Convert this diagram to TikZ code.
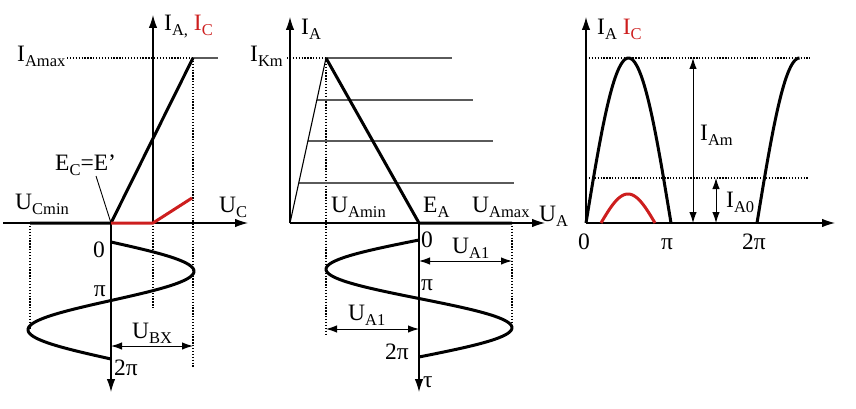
\documentclass[tikz,border=0pt]{standalone}
\usepackage{fontspec}
\setmainfont{Liberation Serif}
\usetikzlibrary{arrows.meta}
\definecolor{redc}{RGB}{205,30,30}
\definecolor{thing}{RGB}{90,90,90}
\newcommand\sbx[1]{\raisebox{-5pt}{\fontsize{16.5}{16.5}\selectfont #1}}
\tikzset{
  ax/.style={line width=1.1pt, -{Latex[length=13pt,width=8.5pt]}},
  dim/.style={line width=1pt, {Latex[length=11pt,width=7.5pt]}-{Latex[length=11pt,width=7.5pt]}},
  heavy/.style={line width=3pt, line join=round},
  redl/.style={line width=3pt, redc, line join=round},
  dotl/.style={line width=1.3pt, dash pattern=on 1.3pt off 1.6pt},
  thinl/.style={line width=1.4pt, thing},
  lbl/.style={inner sep=0pt, font=\fontsize{23.5}{23.5}\selectfont},
}
\begin{document}
\begin{tikzpicture}[x=1pt,y=-1pt]
\useasboundingbox (0,0) rectangle (856,409);

% ================= Panel 1 =================
\coordinate (o1) at (111,223);
\coordinate (v1) at (153,223);
\coordinate (v1t) at (153,15);
\coordinate (h1s) at (3,223);
\coordinate (h1e) at (248,223);
\coordinate (t1e) at (111,392);
\coordinate (p1) at (193,58);
\coordinate (p1r) at (218,58);
\coordinate (umin1) at (30,223);
\coordinate (red1) at (192,198);
\coordinate (d1a) at (193,368);
\coordinate (d1b) at (153,308);
\coordinate (d1c) at (30,330);
\coordinate (imx) at (67,58);
\coordinate (ubxa) at (111,346);
\coordinate (ubxb) at (193,346);
\coordinate (lead1) at (96,176);

\draw[dotl] (p1) -- (d1a);
\draw[dotl] (v1) -- (d1b);
\draw[dotl] (umin1) -- (d1c);
\draw[dotl] (imx) -- (p1);
\draw[thinl] (p1) -- (p1r);
\draw[ax] (v1) -- (v1t);
\draw[ax] (h1s) -- (h1e);
\draw[ax] (o1) -- (t1e);
\draw[line width=0.9pt] (lead1) -- (o1);
\draw[heavy] (umin1) -- (o1) -- (p1);
\draw[redl] (o1) -- (v1) -- (red1);
\draw[heavy] plot[domain=0:360, samples=90, smooth] ({111+83*sin(\x)}, {242+\x/360*117});
\draw[dim] (ubxa) -- (ubxb);

\node[lbl, anchor=base west] (ia1) at (164,31) {I\sbx{A,} \textcolor{redc}{I\sbx{C}}};
\node[lbl, anchor=base west] (iamax) at (17,62) {I\sbx{Amax}};
\node[lbl, anchor=base west] (ec) at (55,170) {E\sbx{C}=E’};
\node[lbl, anchor=base west] (ucmin) at (15,209) {U\sbx{Cmin}};
\node[lbl, anchor=base west] (uc) at (219,212) {U\sbx{C}};
\node[lbl, anchor=base east] (z1) at (105,257) {0};
\node[lbl, anchor=base east] (pi1) at (106,296) {π};
\node[lbl, anchor=base west] (tp1) at (114,375) {2π};
\node[lbl, anchor=base west] (ubx) at (132,338) {U\sbx{BX}};

% ================= Panel 2 =================
\coordinate (o2) at (290,223);
\coordinate (v2t) at (290,17);
\coordinate (h2e) at (545,223);
\coordinate (pk2) at (326,58);
\coordinate (ea) at (419,223);
\coordinate (uam) at (512,223);
\coordinate (t2e) at (419,392);
\coordinate (ikm) at (287,58);
\coordinate (l1e) at (452,58);
\coordinate (l2s) at (317.2,100);
\coordinate (l2e) at (473,100);
\coordinate (l3s) at (308.2,141);
\coordinate (l3e) at (493,141);
\coordinate (l4s) at (298.7,183);
\coordinate (l4e) at (514,183);
\coordinate (d2a) at (326,334);
\coordinate (d2b) at (512,326);
\coordinate (ua1a) at (419,261);
\coordinate (ua1b) at (512,261);
\coordinate (ua2a) at (326,329);
\coordinate (ua2b) at (419,329);

\draw[dotl] (ikm) -- (pk2);
\draw[dotl] (pk2) -- (d2a);
\draw[dotl] (uam) -- (d2b);
\draw[thinl] (pk2) -- (l1e);
\draw[thinl] (l2s) -- (l2e);
\draw[thinl] (l3s) -- (l3e);
\draw[thinl] (l4s) -- (l4e);
\draw[line width=1.1pt] (o2) -- (pk2);
\draw[ax] (o2) -- (v2t);
\draw[ax] (o2) -- (h2e);
\draw[ax] (ea) -- (t2e);
\draw[heavy] (pk2) -- (ea) -- (uam);
\draw[heavy] plot[domain=0:360, samples=90, smooth] ({419-93*sin(\x)}, {240+\x/360*117});
\draw[dim] (ua1a) -- (ua1b);
\draw[dim] (ua2a) -- (ua2b);

\node[lbl, anchor=base west] (ia2) at (301,35) {I\sbx{A}};
\node[lbl, anchor=base west] (ikmn) at (250,62) {I\sbx{Km}};
\node[lbl, anchor=base west] (uamin) at (331,212) {U\sbx{Amin}};
\node[lbl, anchor=base west] (ean) at (423,212) {E\sbx{A}};
\node[lbl, anchor=base west] (uamax) at (472,212) {U\sbx{Amax}};
\node[lbl, anchor=base west] (uan) at (539,221) {U\sbx{A}};
\node[lbl, anchor=base west] (z2) at (421,247) {0};
\node[lbl, anchor=base west] (ua1t) at (452,253) {U\sbx{A1}};
\node[lbl, anchor=base west] (pi2) at (421,290) {π};
\node[lbl, anchor=base west] (ua1l) at (348,320) {U\sbx{A1}};
\node[lbl, anchor=base east] (tp2) at (409,359) {2π};
\node[lbl, anchor=base west] (tau) at (423,387) {τ};

% ================= Panel 3 =================
\coordinate (o3) at (586,223);
\coordinate (v3t) at (586,17);
\coordinate (h3e) at (835,223);
\coordinate (m3a) at (586,58);
\coordinate (m3b) at (810,58);
\coordinate (a3a) at (586,178);
\coordinate (a3b) at (808,178);
\coordinate (iama) at (693,58);
\coordinate (iamb) at (693,223);
\coordinate (ia0a) at (716,178);
\coordinate (ia0b) at (716,223);

\draw[dotl] (m3a) -- (m3b);
\draw[dotl] (a3a) -- (a3b);
\draw[ax] (o3) -- (v3t);
\draw[ax] (o3) -- (h3e);
\draw[heavy] plot[domain=0:180, samples=60, smooth] ({586+\x/180*85}, {223-165*sin(\x)});
\draw[heavy] plot[domain=0:90, samples=30, smooth] ({757+\x/180*85}, {223-165*sin(\x)});
\draw[redl] plot[domain=0:180, samples=40, smooth] ({601+\x/180*54}, {223-29*sin(\x)});
\draw[dim] (iama) -- (iamb);
\draw[dim] (ia0a) -- (ia0b);

\node[lbl, anchor=base west] (ia3) at (597,35) {I\sbx{A} \textcolor{redc}{I\sbx{C}}};
\node[lbl, anchor=base west] (iam) at (700,140) {I\sbx{Am}};
\node[lbl, anchor=base west] (ia0) at (726,207) {I\sbx{A0}};
\node[lbl, anchor=base] (z3) at (584,249) {0};
\node[lbl, anchor=base] (pi3) at (667,249) {π};
\node[lbl, anchor=base] (tp3) at (754,249) {2π};
\end{tikzpicture}
\end{document}
